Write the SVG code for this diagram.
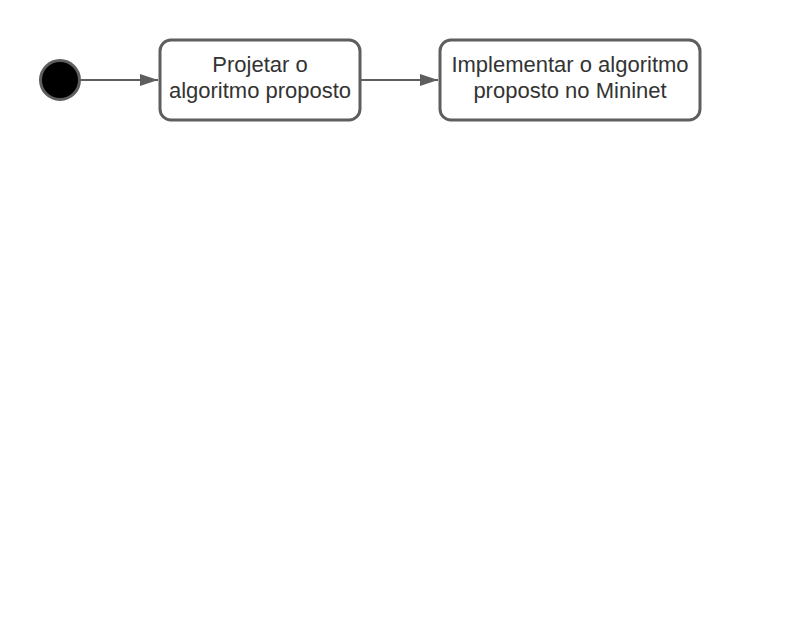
<svg xmlns="http://www.w3.org/2000/svg" width="788" height="640" viewBox="0 0 788 640">
<style>
.box{fill:#fff;stroke:#5e5e5e;stroke-width:3}
.lbl{font-family:"Liberation Sans",Arial,sans-serif;font-size:22px;fill:#333;text-anchor:middle}
.edge{stroke:#5e5e5e;stroke-width:2;fill:none}
</style>
<defs>
<marker id="arr" markerWidth="20" markerHeight="12" refX="18" refY="6" orient="auto" markerUnits="userSpaceOnUse">
<path d="M0,0 L18,6 L0,12 Z" fill="#5e5e5e"/>
</marker>
</defs>
<rect width="788" height="640" fill="#fff"/>
<g id="connectors">
<line class="edge" x1="81" y1="80" x2="158" y2="80" marker-end="url(#arr)"/>
<line class="edge" x1="361" y1="80" x2="438" y2="80" marker-end="url(#arr)"/>
</g>
<g id="start">
<circle cx="60" cy="80" r="19.5" fill="#000" stroke="#5e5e5e" stroke-width="3"/>
</g>
<g id="projetar">
<rect class="box" x="160" y="40" width="200" height="80" rx="11"/>
<text class="lbl" x="260" y="72">Projetar o</text>
<text class="lbl" x="260" y="98">algoritmo proposto</text>
</g>
<g id="implementar">
<rect class="box" x="440" y="40" width="260" height="80" rx="11"/>
<text class="lbl" x="570" y="72">Implementar o algoritmo</text>
<text class="lbl" x="570" y="98">proposto no Mininet</text>
</g>
</svg>
